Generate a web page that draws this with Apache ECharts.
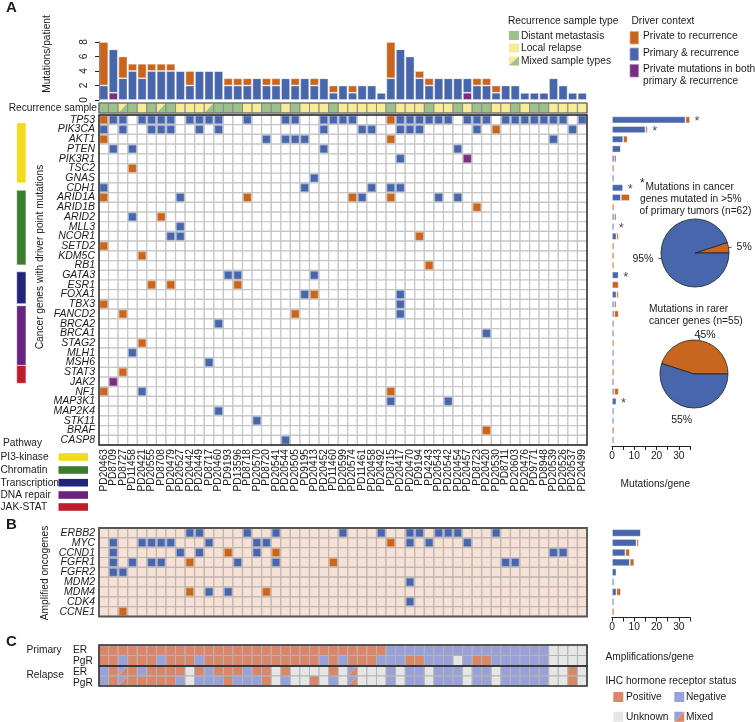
<!DOCTYPE html>
<html><head><meta charset="utf-8">
<script src="https://cdn.jsdelivr.net/npm/echarts@6/dist/echarts.min.js"></script>
<style>html,body{margin:0;padding:0;background:#fff}#c{width:755px;height:722px}</style>
</head><body><div id="c"></div>
<script>
// ---------------- DATA ----------------
const samples = ['PD20463','PD8709','PD8727','PD11458','PD20421','PD20555','PD8708','PD20479','PD20527','PD20442','PD20449','PD8717','PD20460','PD9193','PD13596','PD8718','PD20570','PD8720','PD20541','PD20544','PD20505','PD9195','PD20413','PD20452','PD11460','PD20599','PD20574','PD11461','PD20458','PD20492','PD8715','PD20417','PD20470','PD9194','PD4243','PD20543','PD20542','PD20454','PD20457','PD8723','PD20420','PD20530','PD8711','PD20603','PD20476','PD9771','PD8948','PD20539','PD20526','PD20537','PD20499'];
const genes = ['TP53','PIK3CA','AKT1','PTEN','PIK3R1','TSC2','GNAS','CDH1','ARID1A','ARID1B','ARID2','MLL3','NCOR1','SETD2','KDM5C','RB1','GATA3','ESR1','FOXA1','TBX3','FANCD2','BRCA2','BRCA1','STAG2','MLH1','MSH6','STAT3','JAK2','NF1','MAP3K1','MAP2K4','STK11','BRAF','CASP8'];
const ampGenes = ['ERBB2','MYC','CCND1','FGFR1','FGFR2','MDM2','MDM4','CDK4','CCNE1'];

// Mutations/patient (stacked)
const topShared  = [2,6,3,4,3,4,4,4,4,2,4,4,4,2,2,2,3,2,2,3,2,3,2,3,1,2,1,2,2,1,3,7,6,3,2,3,3,3,2,2,2,1,2,2,1,1,1,3,2,1,1];
const topPrivRec = [6,0,3,1,2,1,1,1,0,2,0,0,0,1,1,1,0,1,1,0,1,0,1,0,1,0,1,0,0,0,5,0,0,1,1,0,0,0,0,1,1,1,0,0,0,0,0,0,0,0,0];
const topPrivBoth= [0,1,0,0,0,0,0,0,0,0,0,0,0,0,0,0,0,0,0,0,0,0,0,0,0,0,0,0,0,0,0,0,0,0,0,0,0,0,1,0,0,0,0,0,0,0,0,0,0,0,0];

// Recurrence sample type per patient: D distant metastasis, L local relapse, M mixed
const recurrenceType = 'DDMDLDMDLL'+'LMDDDLLDDL'+'DLLLDLLLLL'+'DLLLDLLDLD'+'DLLDLDDLLLL';

// Matrix A: sample indices per gene
const mutShared = [
 [1,2,4,5,6,7,9,10,11,12,15,19,20,23,24,25,26,31,32,33,34,35,36,38,39,40,42,43,44,45,46,47,48,50],
 [0,2,5,6,7,10,12,23,27,28,31,32,33,39,49],
 [17,19,20,21,47],
 [1,3,23,37],
 [31],[],[22],
 [0,21,28,30,31],
 [8,27,35,37],
 [],[3],[8],[7,8],[],[],[],
 [13,14,22],
 [],[21,31],[31],[31],[12],[40],[],[3],[11],[],[],[4],[30,36],[12],[16],[],[19]
];
const mutPrivRec = [
 [0,30],[41],[0,30],[],[],[3],[],[],[0,15,26,30],[39],[6],[],[33],[0],[4],[34],[],[5,7,14],[22],[0],[2,20],[],[],[4],[],[],[2],[],[0,30],[],[],[],[40],[]
];
const mutPrivBoth = [
 [],[],[],[],[38],[],[],[],[],[],[],[],[],[],[],[],[],[],[],[],[],[],[],[],[],[],[],[1],[],[],[],[],[],[]
];

// Mutations/gene
const geneShared  = [33,15,5,4,1,0,1,5,4,0,1,1,2,0,0,0,3,0,2,1,1,1,1,0,1,1,0,0,1,2,1,1,0,1];
const genePrivRec = [2,1,2,0,0,1,0,0,4,1,1,0,1,1,1,1,0,3,1,1,2,0,0,1,0,0,1,0,2,0,0,0,1,0];
const genePrivBoth= [0,0,0,0,1,0,0,0,0,0,0,0,0,0,0,0,0,0,0,0,0,0,0,0,0,0,0,1,0,0,0,0,0,0];
const starredGenes = ['TP53','PIK3CA','CDH1','MLL3','GATA3','MAP3K1'];

// Pathway bars (extent in gene-row units)
const pathwayNames = ['PI3-kinase','Chromatin','Transcription','DNA repair','JAK-STAT'];
const pathwayStart = [0.8, 7.75, 16.15, 19.65, 25.8];
const pathwayEnd   = [7.0, 15.45, 19.45, 25.8, 27.65];

// Matrix B
const ampShared = [[9,10,15,18,25,29,32,33,35,36,37,41],[1,4,5,6,7,11,16,17,32,34,38],[1,8,10,16,47,48],[1,3,5,6,14,18,42,43],[1,2],[32],[11,13],[32],[]];
const ampPrivRec = [[],[30],[13,18],[9,24],[],[],[9,17],[],[2]];
const ampBarShared = [13,11,6,8,2,1,2,1,0];
const ampBarPrivRec = [0,1,2,2,0,0,2,0,1];

// Panel C: P positive, N negative, U unknown, M mixed
const primaryER  = 'PPPPPPPPPP'+'PPPPPPPPPP'+'PPPPPPPPPP'+'NNNNNNNNNN'+'NNNNNNNUUUU';
const primaryPgR = 'PPNPPPNPPP'+'NPPPPPPPPP'+'PPPNPNPPPN'+'NNPPNNNUNP'+'PNNNNNNUUUU';
const relapseER  = 'NPMPNPPPPU'+'PNPPPNPPUP'+'UUUUPUMUUU'+'NUNNUNNNUN'+'NUNNNNNUUPU';
const relapsePgR = 'NPMPPPPPNU'+'NNNPNNNPUN'+'UUPUNUMUUU'+'NUNNUNNNUN'+'NUNNNNNUUPU';

const pieCommon = [5, 95];   // private to recurrence, primary & recurrence
const pieRare   = [45, 55];

// ---------------- STYLE ----------------
const FONT = "'Liberation Sans', Arial, Helvetica, sans-serif";
const FS = 10.2;
const BLUE='#4866AB', ORANGE='#C8661F', PURPLE='#7B2D82';
const BLUE_L='#9aaad4', ORANGE_L='#e3a878', PURPLE_L='#b083b5';
const GREEN_R='#9CC18A', YELLOW_R='#F8EC98';
const PATH_COL=['#F2DA1E','#3C7D2D','#22247A','#67237F','#BE1E2B'];
const POS='#D8876B', NEG='#98A2D8', UNK='#E6E6E6';
const PEACH='#F5E1D6';

// ---------------- HELPERS ----------------
function matrixData(nRows, sharedL, privL, bothL) {
  const d = [];
  for (let r = 0; r < nRows; r++) for (let c = 0; c < samples.length; c++) {
    let code = 0;
    if (sharedL[r].includes(c)) code = 1;
    else if (privL[r].includes(c)) code = 2;
    else if (bothL && bothL[r].includes(c)) code = 3;
    d.push([c, r, code]);
  }
  return d;
}
function mutCell(bg, gridStroke) {
  const fills = {1:[BLUE,BLUE_L],2:[ORANGE,ORANGE_L],3:[PURPLE,PURPLE_L]};
  return function (params, api) {
    const c = api.value(0), r = api.value(1), code = api.value(2);
    const p = api.coord([c, r]); const s = api.size([1, 1]);
    const x0 = p[0]-s[0]/2, y0 = p[1]-s[1]/2, w = s[0], h = s[1];
    const kids = [{type:'rect', shape:{x:x0,y:y0,width:w,height:h}, style:{fill:bg, stroke:gridStroke, lineWidth:1.2}}];
    if (fills[code]) kids.push({type:'rect', shape:{x:x0+0.9,y:y0+0.9,width:w-1.8,height:h-1.8}, style:{fill:fills[code][0], stroke:fills[code][1], lineWidth:0.9}});
    return {type:'group', children:kids};
  };
}
function statusCell(colorMap, gridStroke) {
  return function (params, api) {
    const c = api.value(0), r = api.value(1), code = api.value(2);
    const p = api.coord([c, r]); const s = api.size([1, 1]);
    const x0 = p[0]-s[0]/2, y0 = p[1]-s[1]/2, w = s[0], h = s[1];
    const m = colorMap[code];
    if (Array.isArray(m)) {
      return {type:'group', children:[
        {type:'polygon', shape:{points:[[x0,y0],[x0+w,y0],[x0,y0+h]]}, style:{fill:m[0]}},
        {type:'polygon', shape:{points:[[x0+w,y0],[x0+w,y0+h],[x0,y0+h]]}, style:{fill:m[1]}},
        {type:'rect', shape:{x:x0,y:y0,width:w,height:h}, style:{fill:null, stroke:gridStroke, lineWidth:1}}
      ]};
    }
    return {type:'rect', shape:{x:x0,y:y0,width:w,height:h}, style:{fill:m, stroke:gridStroke, lineWidth:1}};
  };
}
function stringRowData(strs) {
  const d = [];
  strs.forEach((s, r) => s.split('').forEach((ch, c) => d.push([c, r, ch])));
  return d;
}
function T(x, y, text, o) {
  o = o || {};
  return {type:'text', x:x, y:y, rotation:o.rot||0, silent:true, z:20,
    style:{text:text, fill:o.color||'#1a1a1a', fontSize:o.size||FS, fontFamily:FONT,
      fontWeight:o.weight||'normal', fontStyle:o.fs||'normal', align:o.align||'left', verticalAlign:'middle'}};
}
function R(x, y, w, h, fill, stroke) {
  return {type:'rect', shape:{x:x,y:y,width:w,height:h}, silent:true, z:20, style:{fill:fill, stroke:stroke||null, lineWidth:0.8}};
}
function Tri(x, y, w, h, c1, c2) {
  return {type:'group', silent:true, z:20, children:[
    {type:'polygon', shape:{points:[[x,y],[x+w,y],[x,y+h]]}, style:{fill:c1}},
    {type:'polygon', shape:{points:[[x+w,y],[x+w,y+h],[x,y+h]]}, style:{fill:c2}}
  ]};
}

// ---------------- GRIDS & AXES ----------------
const gridBase = {outerBoundsMode:'none', containLabel:false};
const grids = [
  Object.assign({left:99, top:42, width:488, height:58}, gridBase),                               // 0 top bars
  Object.assign({left:99, top:103, width:488, height:10, show:true, borderColor:'#6b6b6b', borderWidth:1.2, z:10}, gridBase), // 1 recurrence
  Object.assign({left:99, top:115, width:488, height:330, show:true, borderColor:'#222', borderWidth:1.4, z:10}, gridBase),  // 2 matrix A
  Object.assign({left:612, top:115, width:78, height:330}, gridBase),                            // 3 mutations/gene
  Object.assign({left:16.7, top:115, width:9.3, height:330}, gridBase),                          // 4 pathway
  Object.assign({left:99, top:528, width:488, height:88.5, show:true, borderColor:'#555', borderWidth:1.8, z:10}, gridBase), // 5 matrix B
  Object.assign({left:612, top:528, width:78, height:88.5}, gridBase),                           // 6 amp/gene
  Object.assign({left:99, top:645, width:488, height:21, show:true, borderColor:'#333', borderWidth:1.6, z:10}, gridBase),  // 7 C primary
  Object.assign({left:99, top:666, width:488, height:20, show:true, borderColor:'#333', borderWidth:1.6, z:10}, gridBase)   // 8 C relapse
];
const hiddenCat = (g, data, inv) => ({type:'category', gridIndex:g, data:data, show:false, inverse:!!inv, boundaryGap:true});
const valueX = (g) => ({type:'value', gridIndex:g, min:0, max:35, interval:5,
  axisLine:{show:true, lineStyle:{color:'#222', width:1}}, axisTick:{show:true, length:4, lineStyle:{color:'#222'}},
  axisLabel:{fontSize:FS, fontFamily:FONT, color:'#1a1a1a', margin:5, formatter:v => (v % 10 === 0 ? String(v) : '')},
  splitLine:{show:false}, offset:1});

const xAxes = [
  hiddenCat(0, samples), hiddenCat(1, samples),
  {type:'category', gridIndex:2, data:samples, position:'bottom', axisLine:{show:false}, axisTick:{show:false},
    axisLabel:{interval:0, rotate:90, fontSize:10.2, fontFamily:FONT, color:'#1a1a1a', margin:4}},
  valueX(3),
  {type:'value', gridIndex:4, min:0, max:1, show:false},
  hiddenCat(5, samples),
  valueX(6),
  hiddenCat(7, samples), hiddenCat(8, samples)
];
const yAxes = [
  {type:'value', gridIndex:0, min:0, max:8, interval:2, axisLine:{show:true, lineStyle:{color:'#222'}},
    axisTick:{show:true, length:4, lineStyle:{color:'#222'}}, splitLine:{show:false},
    axisLabel:{rotate:90, fontSize:FS, fontFamily:FONT, color:'#1a1a1a', margin:10}},
  hiddenCat(1, ['r']),
  {type:'category', gridIndex:2, data:genes, inverse:true, axisLine:{show:false}, axisTick:{show:false},
    axisLabel:{interval:0, fontSize:10.5, fontStyle:'italic', fontFamily:FONT, color:'#1a1a1a', margin:4}},
  hiddenCat(3, genes, true),
  {type:'value', gridIndex:4, min:0, max:genes.length, inverse:true, show:false},
  {type:'category', gridIndex:5, data:ampGenes, inverse:true, axisLine:{show:false}, axisTick:{show:false},
    axisLabel:{interval:0, fontSize:10.5, fontStyle:'italic', fontFamily:FONT, color:'#1a1a1a', margin:4}},
  hiddenCat(6, ampGenes, true),
  hiddenCat(7, ['ER','PgR'], true), hiddenCat(8, ['ER','PgR'], true)
];

// ---------------- SERIES ----------------
const barBorder = {borderColor:'rgba(255,255,255,0.55)', borderWidth:0.8};
const series = [];
[[topPrivBoth, PURPLE], [topShared, BLUE], [topPrivRec, ORANGE]].forEach(([d, col]) => {
  series.push({type:'bar', xAxisIndex:0, yAxisIndex:0, stack:'top', data:d, barCategoryGap:'6%',
    itemStyle:Object.assign({color:col}, barBorder), silent:true});
});
series.push({type:'custom', xAxisIndex:1, yAxisIndex:1, encode:{x:0,y:1},
  data:recurrenceType.split('').map((t, c) => [c, 0, t]),
  renderItem:statusCell({D:GREEN_R, L:YELLOW_R, M:[YELLOW_R, GREEN_R]}, '#8a8a8a'), silent:true});
series.push({type:'custom', xAxisIndex:2, yAxisIndex:2, encode:{x:0,y:1},
  data:matrixData(genes.length, mutShared, mutPrivRec, mutPrivBoth), renderItem:mutCell('#ffffff', '#c6c6c6'), silent:true});
[[genePrivBoth, PURPLE], [geneShared, BLUE], [genePrivRec, ORANGE]].forEach(([d, col]) => {
  series.push({type:'bar', xAxisIndex:3, yAxisIndex:3, stack:'g', data:d, barWidth:7,
    itemStyle:Object.assign({color:col}, barBorder), silent:true});
});
series.push({type:'scatter', xAxisIndex:3, yAxisIndex:3, symbolSize:1, itemStyle:{color:'rgba(0,0,0,0)'},
  data:starredGenes.map(g => { const i = genes.indexOf(g); return [geneShared[i]+genePrivRec[i]+genePrivBoth[i], g]; }),
  label:{show:true, formatter:'*', position:'right', distance:4, fontSize:13, fontFamily:FONT, color:'#1a1a1a', offset:[0,2]}, silent:true});
series.push({type:'custom', xAxisIndex:4, yAxisIndex:4, encode:{x:0,y:1},
  data:pathwayNames.map((n, i) => [0, pathwayStart[i], pathwayEnd[i], i]),
  renderItem:function (params, api) {
    const a = api.coord([0, api.value(1)]), b = api.coord([1, api.value(2)]);
    return {type:'rect', shape:{x:a[0], y:a[1], width:b[0]-a[0], height:b[1]-a[1]},
      style:{fill:PATH_COL[api.value(3)], stroke:'#ffffff', lineWidth:0.6}};
  }, silent:true});
series.push({type:'custom', xAxisIndex:5, yAxisIndex:5, encode:{x:0,y:1},
  data:matrixData(ampGenes.length, ampShared, ampPrivRec, null), renderItem:mutCell(PEACH, '#c2b6b0'), silent:true});
[[ampBarShared, BLUE], [ampBarPrivRec, ORANGE]].forEach(([d, col]) => {
  series.push({type:'bar', xAxisIndex:6, yAxisIndex:6, stack:'a', data:d, barWidth:7.5,
    itemStyle:Object.assign({color:col}, barBorder), silent:true});
});
const ihcMap = {P:POS, N:NEG, U:UNK, M:[NEG, POS]};
series.push({type:'custom', xAxisIndex:7, yAxisIndex:7, encode:{x:0,y:1},
  data:stringRowData([primaryER, primaryPgR]), renderItem:statusCell(ihcMap, '#b5b5b5'), silent:true});
series.push({type:'custom', xAxisIndex:8, yAxisIndex:8, encode:{x:0,y:1},
  data:stringRowData([relapseER, relapsePgR]), renderItem:statusCell(ihcMap, '#b5b5b5'), silent:true});
const pieBase = {type:'pie', radius:34, clockwise:true, silent:true, animation:false, avoidLabelOverlap:false,
  itemStyle:{borderColor:'#222', borderWidth:0.8},
  label:{show:true, position:'outside', formatter:'{c}%', fontSize:10.5, fontFamily:FONT, color:'#1a1a1a', overflow:'none', bleedMargin:0},
  labelLine:{show:true, length:3, length2:0, lineStyle:{color:'#222', width:0.8}}};
series.push(Object.assign({}, pieBase, {center:[695,253], startAngle:18,
  data:[{value:pieCommon[0], name:'Private to recurrence', itemStyle:{color:ORANGE}}, {value:pieCommon[1], name:'Primary & recurrence', itemStyle:{color:BLUE}}]}));
series.push(Object.assign({}, pieBase, {center:[694,374], startAngle:162,
  labelLayout:{align:'center'},
  labelLine:{show:true, length:5, length2:0, lineStyle:{color:'#222', width:0.8}},
  data:[{value:pieRare[0], name:'Private to recurrence', itemStyle:{color:ORANGE}},
        {value:pieRare[1], name:'Primary & recurrence', itemStyle:{color:BLUE}, labelLine:{show:false, length:13, length2:0}}]}));

// ---------------- TEXT / LEGENDS ----------------
const g = [];
g.push(T(6, 7.5, 'A', {size:15, weight:'bold'}), T(6, 524.5, 'B', {size:15, weight:'bold'}), T(6, 642, 'C', {size:15, weight:'bold'}));
g.push(T(47, 54, 'Mutations/patient', {rot:Math.PI/2, align:'center'}));
g.push(T(97, 108, 'Recurrence sample', {align:'right'}));
g.push(T(40.5, 257, 'Cancer genes with driver point mutations', {rot:Math.PI/2, align:'center'}));
g.push(T(45, 573, 'Amplified oncogenes', {rot:Math.PI/2, align:'center'}));
g.push(T(508, 21, 'Recurrence sample type'));
g.push(R(509, 31, 10, 9, GREEN_R), T(521, 36, 'Distant metastasis'));
g.push(R(509, 43.5, 10, 9, YELLOW_R), T(521, 48.5, 'Local relapse'));
g.push(Tri(509, 56.5, 10, 9, YELLOW_R, GREEN_R), T(521, 61, 'Mixed sample types'));
g.push(T(631.5, 21, 'Driver context'));
g.push(R(630, 31.5, 8.5, 12.5, ORANGE, ORANGE_L), T(643, 36, 'Private to recurrence'));
g.push(R(630, 48, 8.5, 12.5, BLUE, BLUE_L), T(643, 53.5, 'Primary & recurrence'));
g.push(R(630, 64.5, 8.5, 12.5, PURPLE, PURPLE_L), T(643, 69, 'Private mutations in both'), T(643, 81, 'primary & recurrence'));
g.push(T(3, 443, 'Pathway'));
pathwayNames.forEach((n, i) => {
  const yy = [457, 470, 482.7, 495, 507][i];
  g.push(T(0.5, yy, n), R(58.5, yy - 3.8, 29.5, 7.6, PATH_COL[i]));
});
g.push(T(640, 183.5, '*', {size:12}), T(645.5, 187, 'Mutations in cancer'));
g.push(T(640, 199, 'genes mutated in >5%'), T(639.5, 211, 'of primary tumors (n=62)'));
g.push(T(649, 309, 'Mutations in rarer'), T(649, 321, 'cancer genes (n=55)'));
g.push(T(620.5, 484, 'Mutations/gene'));
g.push(T(605.5, 657, 'Amplifications/gene'));
g.push(T(26.5, 650.5, 'Primary'), T(73, 650.5, 'ER'), T(73, 661, 'PgR'));
g.push(T(26.5, 675, 'Relapse'), T(73, 672.5, 'ER'), T(73, 683, 'PgR'));
g.push(T(605.5, 680.7, 'IHC hormone receptor status'));
g.push(R(613.3, 692, 10, 10, POS), T(626, 697, 'Positive'));
g.push(R(674.3, 692, 10, 10, NEG), T(686, 697, 'Negative'));
g.push(R(613.3, 711.7, 10, 10, UNK), T(626, 716.7, 'Unknown'));
g.push(Tri(674.3, 711.7, 10, 10, NEG, POS), T(686, 716.7, 'Mixed'));

const chart = echarts.init(document.getElementById('c'));
chart.setOption({
  animation:false,
  backgroundColor:'#ffffff',
  textStyle:{fontFamily:FONT},
  grid:grids, xAxis:xAxes, yAxis:yAxes, series:series, graphic:g
});
</script>
</body></html>
